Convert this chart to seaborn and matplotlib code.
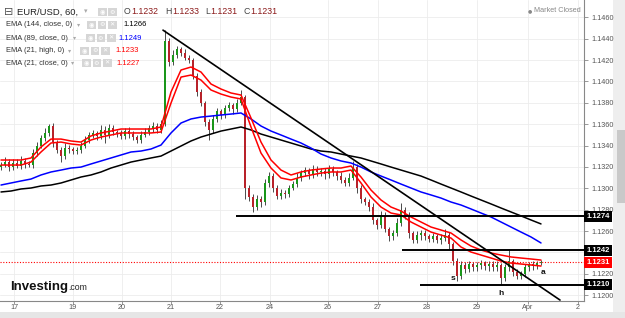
import numpy as np
import pandas as pd
import matplotlib
matplotlib.use("Agg")
import matplotlib.pyplot as plt
import seaborn as sns
from matplotlib.patches import Rectangle

# ---- data (2-hour bars, EUR/USD) ----
first_open = 1.1320
close = [
    1.1322, 1.1325, 1.1320, 1.1324, 1.1321, 1.1326, 1.1323, 1.1322, 1.1333, 1.1340,
    1.1347, 1.1352, 1.1358, 1.1343, 1.1336, 1.1330, 1.1338, 1.1337, 1.1335, 1.1336,
    1.1340, 1.1345, 1.1350, 1.1352, 1.1349, 1.1355, 1.1350, 1.1356, 1.1353, 1.1352,
    1.1349, 1.1354, 1.1351, 1.1348, 1.1345, 1.1350, 1.1353, 1.1356, 1.1358, 1.1355,
    1.1360, 1.1438, 1.1418, 1.1425, 1.1430, 1.1427, 1.1422, 1.1420, 1.1405, 1.1390,
    1.1380, 1.1362, 1.1355, 1.1365, 1.1372, 1.1369, 1.1375, 1.1378, 1.1374, 1.1380,
    1.1385, 1.1300, 1.1292, 1.1283, 1.1290, 1.1287, 1.1305, 1.1312, 1.1300, 1.1293,
    1.1296, 1.1295, 1.1300, 1.1304, 1.1310, 1.1314, 1.1317, 1.1313, 1.1318, 1.1315,
    1.1316, 1.1313, 1.1318, 1.1315, 1.1312, 1.1308, 1.1305, 1.1310, 1.1320, 1.1300,
    1.1290, 1.1287, 1.1283, 1.1270, 1.1266, 1.1275, 1.1262, 1.1255, 1.1258, 1.1268,
    1.1280, 1.1275, 1.1258, 1.1252, 1.1256, 1.1258, 1.1255, 1.1253, 1.1255, 1.1252,
    1.1254, 1.1256, 1.1248, 1.1232, 1.1218, 1.1228, 1.1225, 1.1229, 1.1226, 1.1228,
    1.1230, 1.1227, 1.1229, 1.1226, 1.1228, 1.1216, 1.1226, 1.1232, 1.1222, 1.1218,
    1.1220, 1.1226, 1.1229, 1.1227, 1.1230, 1.1231,
]
# wick lengths in pips above / below the body
up_wick = [
    3, 4, 2, 3, 3, 4, 2, 3, 4, 3, 3, 4, 2, 3, 2, 3, 4, 3, 2, 3,
    3, 4, 3, 3, 2, 4, 3, 4, 3, 2, 3, 2, 3, 3, 2, 4, 3, 3, 4, 3,
    4, 10, 3, 4, 3, 2, 3, 3, 2, 3, 3, 2, 3, 4, 3, 2, 3, 3, 2, 4,
    7, 2, 3, 3, 4, 3, 4, 3, 2, 3, 3, 2, 3, 3, 4, 3, 3, 2, 4, 3,
    3, 3, 4, 3, 2, 3, 3, 4, 6, 3, 3, 2, 3, 3, 2, 4, 3, 2, 3, 4,
    6, 3, 3, 2, 4, 3, 3, 2, 3, 2, 3, 6, 3, 2, 3, 4, 3, 3, 2, 3,
    3, 2, 3, 3, 4, 2, 3, 11, 2, 3, 3, 3, 2, 3, 2, 2,
]
down_wick = [
    3, 2, 4, 3, 2, 3, 4, 2, 3, 3, 2, 3, 3, 4, 3, 5, 3, 4, 3, 3,
    3, 2, 3, 3, 4, 3, 8, 3, 3, 4, 3, 3, 4, 3, 3, 3, 2, 3, 3, 3,
    3, 2, 4, 3, 3, 3, 2, 3, 3, 4, 3, 4, 10, 3, 3, 4, 3, 3, 4, 3,
    2, 10, 4, 5, 3, 4, 3, 4, 3, 3, 3, 4, 3, 2, 3, 3, 2, 4, 3, 3,
    3, 4, 3, 3, 4, 3, 3, 3, 2, 4, 4, 3, 4, 3, 4, 3, 3, 4, 3, 3,
    3, 4, 4, 3, 3, 4, 3, 3, 3, 3, 4, 3, 5, 4, 5, 3, 4, 3, 3, 3,
    3, 3, 4, 3, 3, 6, 3, 3, 4, 3, 3, 3, 3, 3, 2, 2,
]

# EMA lines, sampled every 2.5 bars
ema144 = [
    1.12966, 1.12975, 1.12994, 1.13003, 1.13022, 1.13031, 1.13050, 1.13078, 1.13106, 1.13125,
    1.13153, 1.13190, 1.13218, 1.13246, 1.13265, 1.13284, 1.13302, 1.13349, 1.13396, 1.13443,
    1.13480, 1.13508, 1.13536, 1.13555, 1.13574, 1.13546, 1.13508, 1.13480, 1.13452, 1.13424,
    1.13396, 1.13368, 1.13349, 1.13340, 1.13321, 1.13302, 1.13284, 1.13256, 1.13228, 1.13199,
    1.13171, 1.13143, 1.13115, 1.13078, 1.13040, 1.13003, 1.12966, 1.12928, 1.12891, 1.12854,
    1.12816, 1.12779, 1.12742, 1.12704, 1.12667,
]
ema89 = [
    1.13031, 1.13050, 1.13069, 1.13087, 1.13125, 1.13153, 1.13171, 1.13190, 1.13199, 1.13228,
    1.13256, 1.13284, 1.13312, 1.13340, 1.13349, 1.13368, 1.13405, 1.13518, 1.13611, 1.13649,
    1.13667, 1.13676, 1.13686, 1.13695, 1.13705, 1.13649, 1.13583, 1.13536, 1.13499, 1.13461,
    1.13424, 1.13377, 1.13321, 1.13284, 1.13256, 1.13237, 1.13199, 1.13153, 1.13115, 1.13078,
    1.13040, 1.13003, 1.12966, 1.12938, 1.12909, 1.12872, 1.12844, 1.12807, 1.12769, 1.12732,
    1.12685, 1.12638, 1.12591, 1.12545, 1.12489,
]
ema21_high = [
    1.13265, 1.13265, 1.13265, 1.13284, 1.13387, 1.13461, 1.13461, 1.13443, 1.13433, 1.13490,
    1.13518, 1.13536, 1.13555, 1.13555, 1.13555, 1.13555, 1.13574, 1.13901, 1.14107, 1.14135,
    1.14088, 1.13976, 1.13929, 1.13892, 1.13873, 1.13658, 1.13433, 1.13265, 1.13171, 1.13125,
    1.13153, 1.13171, 1.13181, 1.13190, 1.13190, 1.13209, 1.13106, 1.12984, 1.12891, 1.12825,
    1.12788, 1.12732, 1.12685, 1.12638, 1.12610, 1.12582, 1.12517, 1.12460, 1.12423, 1.12395,
    1.12376, 1.12358, 1.12348, 1.12339, 1.12329,
]
ema21_close = [
    1.13218, 1.13218, 1.13218, 1.13246, 1.13340, 1.13424, 1.13433, 1.13415, 1.13405, 1.13452,
    1.13480, 1.13499, 1.13518, 1.13518, 1.13518, 1.13518, 1.13527, 1.13798, 1.14041, 1.14060,
    1.14013, 1.13920, 1.13882, 1.13854, 1.13836, 1.13574, 1.13330, 1.13190, 1.13097, 1.13078,
    1.13106, 1.13125, 1.13143, 1.13153, 1.13153, 1.13171, 1.13050, 1.12919, 1.12825, 1.12769,
    1.12751, 1.12685, 1.12638, 1.12591, 1.12563, 1.12535, 1.12451, 1.12404, 1.12376, 1.12348,
    1.12320, 1.12301, 1.12292, 1.12283, 1.12273,
]

# drawn levels and trend line
level_price = [1.1274, 1.1242, 1.1210]
level_start = [58.75, 100.25, 104.75]
trend_x = [40.5, 139.75]
trend_y = [1.1448, 1.11955]
last_price = 1.1231
marks = [("s", 113, 1.12155), ("h", 125, 1.12012), ("a", 135.5, 1.12208)]

x_tick_pos = [3.25, 18, 30.25, 42.5, 54.75, 67.25, 81.75, 94.25, 106.5, 119, 131.75, 144.25]
x_tick_lab = ["17", "19", "20", "21", "22", "24", "26", "27", "28", "29", "Apr", "2"]

# ---- build table ----
df = pd.DataFrame({"close": close})
df["x"] = np.arange(len(df))
df["open"] = [first_open] + close[:-1]
df["high"] = df[["open", "close"]].max(axis=1) + np.array(up_wick) * 1e-4
df["low"] = df[["open", "close"]].min(axis=1) - np.array(down_wick) * 1e-4
ema = pd.DataFrame({"x": np.arange(len(ema144)) * 2.5, "ema144": ema144, "ema89": ema89,
                    "ema21h": ema21_high, "ema21c": ema21_close})

sns.set_theme(style="white")
plt.rcParams["font.family"] = ["Liberation Sans", "DejaVu Sans"]

W, H = 625, 318
fig = plt.figure(figsize=(6.25, 3.18), dpi=100)
ax = fig.add_axes([0, 17 / H, 584 / W, 301 / H])

# candles
up = df["close"] >= df["open"]
colors = np.where(up, "#1a961a", "#b8222a")
ax.vlines(df["x"], df["low"], df["high"], color="#4a4a4a", lw=0.7, zorder=2)
body = (df["close"] - df["open"]).abs().clip(lower=0.00005)
ax.bar(df["x"], body, bottom=df[["open", "close"]].min(axis=1), width=0.7,
       color=colors, linewidth=0, zorder=2.5)

# EMAs
sns.lineplot(data=ema, x="x", y="ema144", ax=ax, color="black", lw=1.1, zorder=3)
sns.lineplot(data=ema, x="x", y="ema89", ax=ax, color="#0000ff", lw=1.1, zorder=3)
sns.lineplot(data=ema, x="x", y="ema21h", ax=ax, color="#ff0000", lw=1.1, zorder=3)
sns.lineplot(data=ema, x="x", y="ema21c", ax=ax, color="#ff0000", lw=1.1, zorder=3)

# drawings
ax.hlines(level_price, level_start, 145.75, colors="black", lw=1.4, zorder=4)
ax.plot(trend_x, trend_y, color="black", lw=1.2, zorder=4)
ax.axhline(last_price, color="#ff0000", lw=0.8, ls=(0, (1, 1.5)), zorder=3.5)
for s, mx, my in marks:
    ax.text(mx, my, s, fontsize=6, fontweight="bold", ha="center", va="center", color="#111111")

# axes
ax.set_xlim(-0.25, 145.75)
ax.set_ylim(1.11946, 1.14762)
ax.set_xlabel("")
ax.set_ylabel("")
yt = np.round(np.arange(1.1200, 1.14601, 0.002), 4)
ax.set_yticks(yt)
# 1.1240 sits fully under the 1.1242 price box in the original
ax.set_yticklabels(["" if abs(v - 1.1240) < 1e-6 else f"{v:.4f}" for v in yt])
ax.yaxis.tick_right()
ax.set_xticks(x_tick_pos)
ax.set_xticklabels(x_tick_lab)
ax.tick_params(axis="y", right=True, length=3, width=0.6, color="#888888",
               labelsize=5.2, labelcolor="#555555", pad=2)
ax.tick_params(axis="x", bottom=True, length=2, width=0.6, color="#888888",
               labelsize=5.2, labelcolor="#555555", pad=0.5)
ax.grid(True, color="#ececec", lw=0.6)
ax.set_axisbelow(True)
for side in ["top", "left"]:
    ax.spines[side].set_visible(False)
for side in ["right", "bottom"]:
    ax.spines[side].set_color("#888888")
    ax.spines[side].set_linewidth(0.8)

# price boxes on the right axis
for val, col in [(1.1274, "black"), (1.1242, "black"), (1.1210, "black"), (last_price, "#ff0000")]:
    ax.text(1.004, val, f"{val:.4f}", transform=ax.get_yaxis_transform(), ha="left", va="center",
            color="white", fontsize=5.5, fontweight="bold", clip_on=False, zorder=10,
            bbox=dict(boxstyle="square,pad=0.25", fc=col, ec="none"))


# ---- overlay text (legend, logo, chrome) ----
def ftxt(px, py, s, **kw):
    fig.text(px / W, 1 - py / H, s, va="center", ha=kw.pop("ha", "left"), **kw)


def icon(px, py, glyph):
    fig.add_artist(Rectangle((px / W, 1 - (py + 4) / H), 8.5 / W, 8 / H,
                             transform=fig.transFigure, fc="#d6d6d6", ec="none"))
    fig.text((px + 4.25) / W, 1 - py / H, glyph, ha="center", va="center", fontsize=4.5,
             color="white", family="DejaVu Sans")


ftxt(4, 12, "⊟", fontsize=8, color="#555555", family="DejaVu Sans")
ftxt(17, 12, "EUR/USD, 60,", fontsize=6.8, color="#222222")
ftxt(84, 12, "▾", fontsize=5, color="#aaaaaa")
icon(98, 12, "◉")
icon(108, 12, "⚙")
for px, lab, val in [(124, "O", "1.1232"), (165, "H", "1.1233"), (205, "L", "1.1231"), (243, "C", "1.1231")]:
    ftxt(px, 12, lab, fontsize=6.3, color="#444444")
    ftxt(px + (5 if lab == "L" else 7), 12, val, fontsize=6.3, color="#8b1a1a")

rows = [
    (25, "EMA (144, close, 0)", 77, 87, 123, "1.1266", "black"),
    (38, "EMA (89, close, 0)", 73, 86, 118, "1.1249", "#0000ff"),
    (51, "EMA (21, high, 0)", 68, 80, 115, "1.1233", "#ff0000"),
    (63, "EMA (21, close, 0)", 71, 82, 116, "1.1227", "#ff0000"),
]
for py, lab, arrow_x, icon_x, val_x, val, col in rows:
    ftxt(6, py, lab, fontsize=5.4, color="#333333")
    ftxt(arrow_x, py, "▾", fontsize=4.5, color="#aaaaaa")
    for k, g in enumerate(["◉", "⚙", "✕"]):
        icon(icon_x + k * 10.5, py, g)
    ftxt(val_x, py, val, fontsize=5.5, color=col)

ftxt(528, 11, "●", fontsize=3.5, color="#888888", family="DejaVu Sans")
ftxt(581, 11, "Market Closed", fontsize=5.2, color="#888888", ha="right")

fig.text(10 / W, 1 - 290 / H, "Investing", fontsize=9.5, fontweight="bold", color="#111111",
         va="baseline", ha="left")
fig.text(68 / W, 1 - 290 / H, ".com", fontsize=6.3, color="#222222", va="baseline", ha="left")

# right strip, scrollbar and bottom toolbar
fig.add_artist(Rectangle((613 / W, 0), 12 / W, 1, transform=fig.transFigure,
                         fc="#eeeeee", ec="none", zorder=0))
fig.add_artist(Rectangle((617 / W, (H - 203) / H), 8 / W, 73 / H, transform=fig.transFigure,
                         fc="#c9c9c9", ec="none", zorder=0))
fig.add_artist(Rectangle((0, 0), 1, 6 / H, transform=fig.transFigure,
                         fc="#e6e6e6", ec="none", zorder=0))

fig.savefig("out.png", dpi=100)
